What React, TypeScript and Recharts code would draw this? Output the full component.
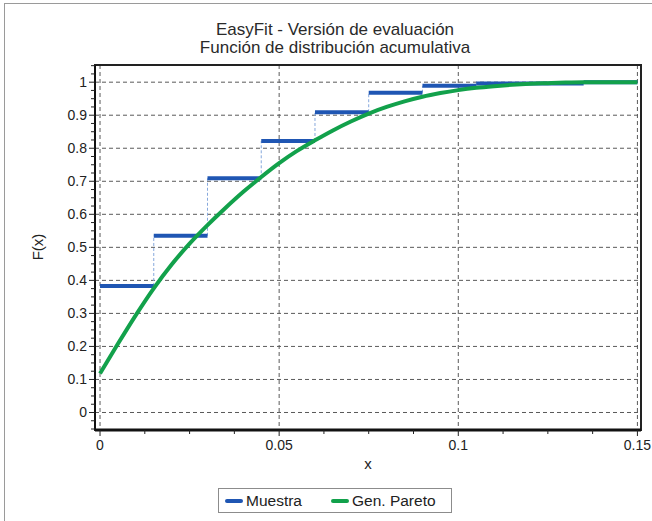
import React from 'react';
import { LineChart, Line, XAxis, YAxis, CartesianGrid, Legend, ReferenceArea } from 'recharts';

const FONT = '"Liberation Sans", Arial, Helvetica, sans-serif';
const BLUE = '#1f56b3';
const GREEN = '#12a14b';

// Sample (empirical CDF): step edges on x and the level of each step
const STEP_EDGES = [0, 0.015, 0.03, 0.045, 0.06, 0.075, 0.09, 0.105, 0.135, 0.15];
const STEP_LEVELS = [0.383, 0.535, 0.709, 0.822, 0.909, 0.968, 0.989, 0.996, 1];

// Fitted Gen. Pareto CDF
const GP_X = [0, 0.005, 0.01, 0.015, 0.02, 0.025, 0.03, 0.035, 0.04, 0.045, 0.05, 0.055, 0.06, 0.065, 0.07, 0.075,
  0.08, 0.085, 0.09, 0.095, 0.1, 0.105, 0.11, 0.115, 0.12, 0.125, 0.13, 0.135, 0.14, 0.145, 0.15];
const GP_F = [0.118, 0.208, 0.295, 0.376, 0.448, 0.511, 0.567, 0.619, 0.668, 0.713, 0.755, 0.792, 0.824, 0.854, 0.881, 0.905,
  0.925, 0.942, 0.956, 0.967, 0.976, 0.983, 0.988, 0.992, 0.995, 0.997, 0.999, 1, 1, 1, 1];

const X_DOMAIN = [-0.0014, 0.151];
const Y_DOMAIN = [-0.053, 1.052];
const X_MAJOR = [0, 0.05, 0.1, 0.15];
const Y_MAJOR = [0, 0.1, 0.2, 0.3, 0.4, 0.5, 0.6, 0.7, 0.8, 0.9, 1];
const X_TICKS = Array.from({ length: 13 }, (_, i) => +(i * 0.0125).toFixed(4));
const Y_TICKS = Array.from({ length: 45 }, (_, i) => +(-0.05 + i * 0.025).toFixed(3));

const stepSegments = STEP_LEVELS.map((f, i) => [
  { x: STEP_EDGES[i], F: f },
  { x: STEP_EDGES[i + 1], F: f },
]);
const jumpSegments = STEP_LEVELS.slice(1).map((f, i) => [
  { x: STEP_EDGES[i + 1], F: STEP_LEVELS[i] },
  { x: STEP_EDGES[i + 1], F: f },
]);
const paretoData = GP_X.map((x, i) => ({ x, F: GP_F[i] }));

const isIn = (list: number[], v: number) => list.some(m => Math.abs(m - v) < 1e-6);
const fmt = (v: number) => Number(v.toFixed(2)).toString();

const YTick = (props: any) => {
  const { x, y, payload } = props;
  const major = isIn(Y_MAJOR, payload.value);
  return (
    <g>
      <line x1={x - (major ? 6 : 4)} y1={y} x2={x} y2={y} stroke="#222" strokeWidth={1} />
      {major && (
        <text x={x - 8} y={y + 5} textAnchor="end" fontSize={14} fill="#222">{fmt(payload.value)}</text>
      )}
    </g>
  );
};

const XTick = (props: any) => {
  const { x, y, payload } = props;
  const major = isIn(X_MAJOR, payload.value);
  return (
    <g>
      <line x1={x} y1={y} x2={x} y2={y + (major ? 6 : 4)} stroke="#222" strokeWidth={1} />
      {major && (
        <text x={x} y={y + 20} textAnchor="middle" fontSize={14} fill="#222">{fmt(payload.value)}</text>
      )}
    </g>
  );
};

const LegendBox = () => (
  <div style={{
    boxSizing: 'border-box', width: 234, height: 25, border: '1px solid #8c8c8c',
    display: 'flex', alignItems: 'center', fontFamily: FONT, fontSize: 15.5, color: '#222', paddingLeft: 6,
  }}>
    <span style={{ width: 18, height: 4, borderRadius: 2, background: BLUE, marginRight: 3 }} />
    <span style={{ width: 85 }}>Muestra</span>
    <span style={{ width: 18, height: 4, borderRadius: 2, background: GREEN, marginRight: 3 }} />
    <span>Gen. Pareto</span>
  </div>
);

export default function App() {
  return (
    <div style={{ position: 'absolute', left: 0, top: 0, width: 652, height: 521, background: '#fff', overflow: 'hidden', fontFamily: FONT }}>
      <div style={{ position: 'absolute', left: 4, top: 3, width: 700, height: 600, borderLeft: '1px solid #9a9a9a', borderTop: '1px solid #9a9a9a' }} />
      <div style={{ position: 'absolute', left: 0, top: 0 }}>
        <LineChart width={652} height={521} margin={{ top: 65, right: 11, bottom: 61, left: 35 }} style={{ fontFamily: FONT }}>
          <CartesianGrid
            horizontalValues={Y_MAJOR}
            verticalValues={X_MAJOR}
            stroke="#5a5a5a"
            strokeDasharray="4 3"
          />
          <XAxis
            type="number"
            dataKey="x"
            domain={X_DOMAIN}
            allowDataOverflow
            ticks={X_TICKS}
            interval={0}
            height={30}
            tickSize={0}
            tickMargin={0}
            tickLine={false}
            tick={<XTick />}
            axisLine={{ stroke: '#111', strokeWidth: 3 }}
          />
          <YAxis
            type="number"
            domain={Y_DOMAIN}
            allowDataOverflow
            ticks={Y_TICKS}
            interval={0}
            width={60}
            tickSize={0}
            tickMargin={0}
            tickLine={false}
            tick={<YTick />}
            axisLine={{ stroke: '#111', strokeWidth: 2 }}
          />
          <ReferenceArea
            x1={X_DOMAIN[0]}
            x2={X_DOMAIN[1]}
            y1={Y_DOMAIN[0]}
            y2={Y_DOMAIN[1]}
            fill="none"
            fillOpacity={0}
            stroke="#222"
            strokeWidth={2}
            ifOverflow="visible"
          />
          {jumpSegments.map((seg, i) => (
            <Line key={`jump-${i}`} data={seg} dataKey="F" stroke="#86a8dc" strokeWidth={1}
              strokeDasharray="3 2" dot={false} activeDot={false} legendType="none" isAnimationActive={false} />
          ))}
          {stepSegments.map((seg, i) => (
            <Line key={`step-${i}`} data={seg} dataKey="F" name="Muestra" stroke={BLUE} strokeWidth={4}
              dot={false} activeDot={false} legendType="none" isAnimationActive={false} />
          ))}
          <Line data={paretoData} dataKey="F" name="Gen. Pareto" type="monotone" stroke={GREEN} strokeWidth={4}
            dot={false} activeDot={false} isAnimationActive={false} />
          <Legend
            layout="horizontal"
            verticalAlign="middle"
            align="center"
            wrapperStyle={{ left: 218, top: 488, width: 234, height: 25 }}
            content={() => <LegendBox />}
          />
          <text x={335} y={35} textAnchor="middle" fontSize={17} fill="#2a2a2a">EasyFit - Versión de evaluación</text>
          <text x={335} y={53} textAnchor="middle" fontSize={17} fill="#2a2a2a">Función de distribución acumulativa</text>
          <text x={368} y={469} textAnchor="middle" fontSize={15} fill="#222">x</text>
          <text x={43} y={247} textAnchor="middle" fontSize={15} fill="#222" transform="rotate(-90 43 247)">F(x)</text>
        </LineChart>
      </div>
    </div>
  );
}
